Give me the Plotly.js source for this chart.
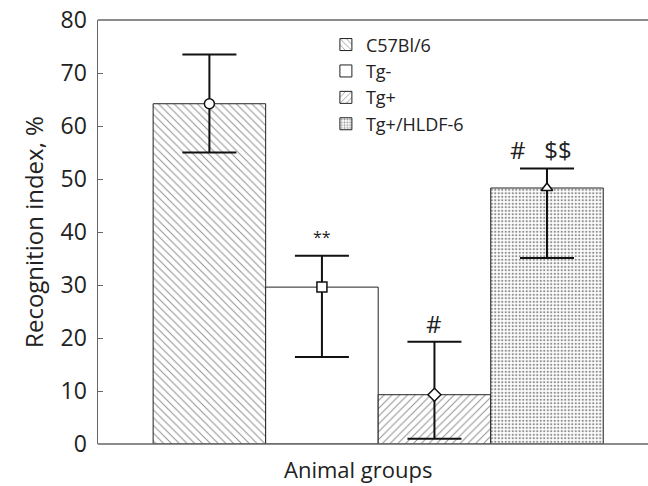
<!DOCTYPE html>
<html><head><meta charset="utf-8">
<script src="https://cdn.plot.ly/plotly-3.0.1.min.js"></script>
<style>html,body{margin:0;background:#fff;overflow:hidden}#c{width:648px;height:486px}</style>
</head><body><div id="c"></div>
<script>
const groups = ["C57Bl/6", "Tg-", "Tg+", "Tg+/HLDF-6"];
const means = [64.2, 29.6, 9.3, 48.3];
const errPlus = [9.3, 5.9, 10.0, 3.7];
const errMinus = [9.2, 13.2, 8.3, 13.2];
const markerSymbols = ["circle", "square", "diamond", "triangle-up"];
const patterns = ["\\", "", "/", "."];
const signif = ["", "**", "#", "#   $$"];

const FONT = "Open Sans, Noto Sans, sans-serif";
const traces = [];
groups.forEach((g, i) => {
  const dot = patterns[i] === ".";
  traces.push({
    type: "bar", name: g, x: [i], y: [means[i]], width: 1,
    marker: {color: "white", line: {color: "#222", width: 1},
      pattern: {shape: patterns[i], fgcolor: "#222", bgcolor: "white",
        size: dot ? 3.5 : 5.5, solidity: dot ? 0.35 : 0.18, fillmode: "overlay"}},
    hoverinfo: "skip"
  });
});
traces.push({
  type: "scatter", mode: "markers", x: groups.map((g, i) => i), y: means, showlegend: false,
  marker: {symbol: markerSymbols, size: 10, color: "white", line: {color: "#111", width: 1.5}},
  error_y: {type: "data", symmetric: false, array: errPlus, arrayminus: errMinus, color: "#111", thickness: 2, width: 27},
  cliponaxis: false
});

const annotations = [];
signif.forEach((s, i) => {
  if (!s) return;
  annotations.push({x: i, y: means[i] + errPlus[i], xshift: i === 3 ? -6 : 0, text: s, showarrow: false,
    font: {family: FONT, size: s === "**" ? 16 : 24, color: "#222"}, yanchor: "bottom", yshift: s === "**" ? 6 : 0});
});
annotations.push({xref: "paper", yref: "paper", x: 0.49, y: 0, yshift: -25, yanchor: "middle",
  text: "Animal groups", showarrow: false, font: {family: FONT, size: 22, color: "#222"}});

const layout = {
  width: 648, height: 486,
  margin: {l: 98, r: 20, t: 20, b: 42, pad: 0},
  paper_bgcolor: "white", plot_bgcolor: "white",
  barmode: "overlay", showlegend: true,
  font: {family: FONT, color: "#222"},
  xaxis: {range: [-0.99, 3.72], showticklabels: false, ticks: "", showgrid: false, zeroline: false,
    showline: false},
  yaxis: {range: [0, 80], dtick: 10, ticks: "inside", ticklen: 5, tickcolor: "#666", showgrid: false, zeroline: false,
    showline: true, mirror: false, linecolor: "#666", linewidth: 1.5,
    tickfont: {size: 23, family: FONT, color: "#222"}, ticklabelstandoff: 5,
    title: {text: "Recognition index, %", font: {size: 24, family: FONT, color: "#222"}, standoff: 10}},
  legend: {x: 0.43, y: 0.985, xanchor: "left", yanchor: "top", bgcolor: "rgba(0,0,0,0)",
    font: {size: 18, family: FONT, color: "#222"}, tracegroupgap: 0, itemwidth: 30},
  shapes: [
    {type: "line", xref: "paper", yref: "paper", x0: 0, x1: 1.04, y0: 1, y1: 1, line: {color: "#666", width: 1.5}},
    {type: "line", xref: "paper", yref: "paper", x0: 0, x1: 1.04, y0: 0, y1: 0, line: {color: "#666", width: 1.5}}
  ],
  annotations: annotations
};
Plotly.newPlot("c", traces, layout, {staticPlot: true});
</script></body></html>
